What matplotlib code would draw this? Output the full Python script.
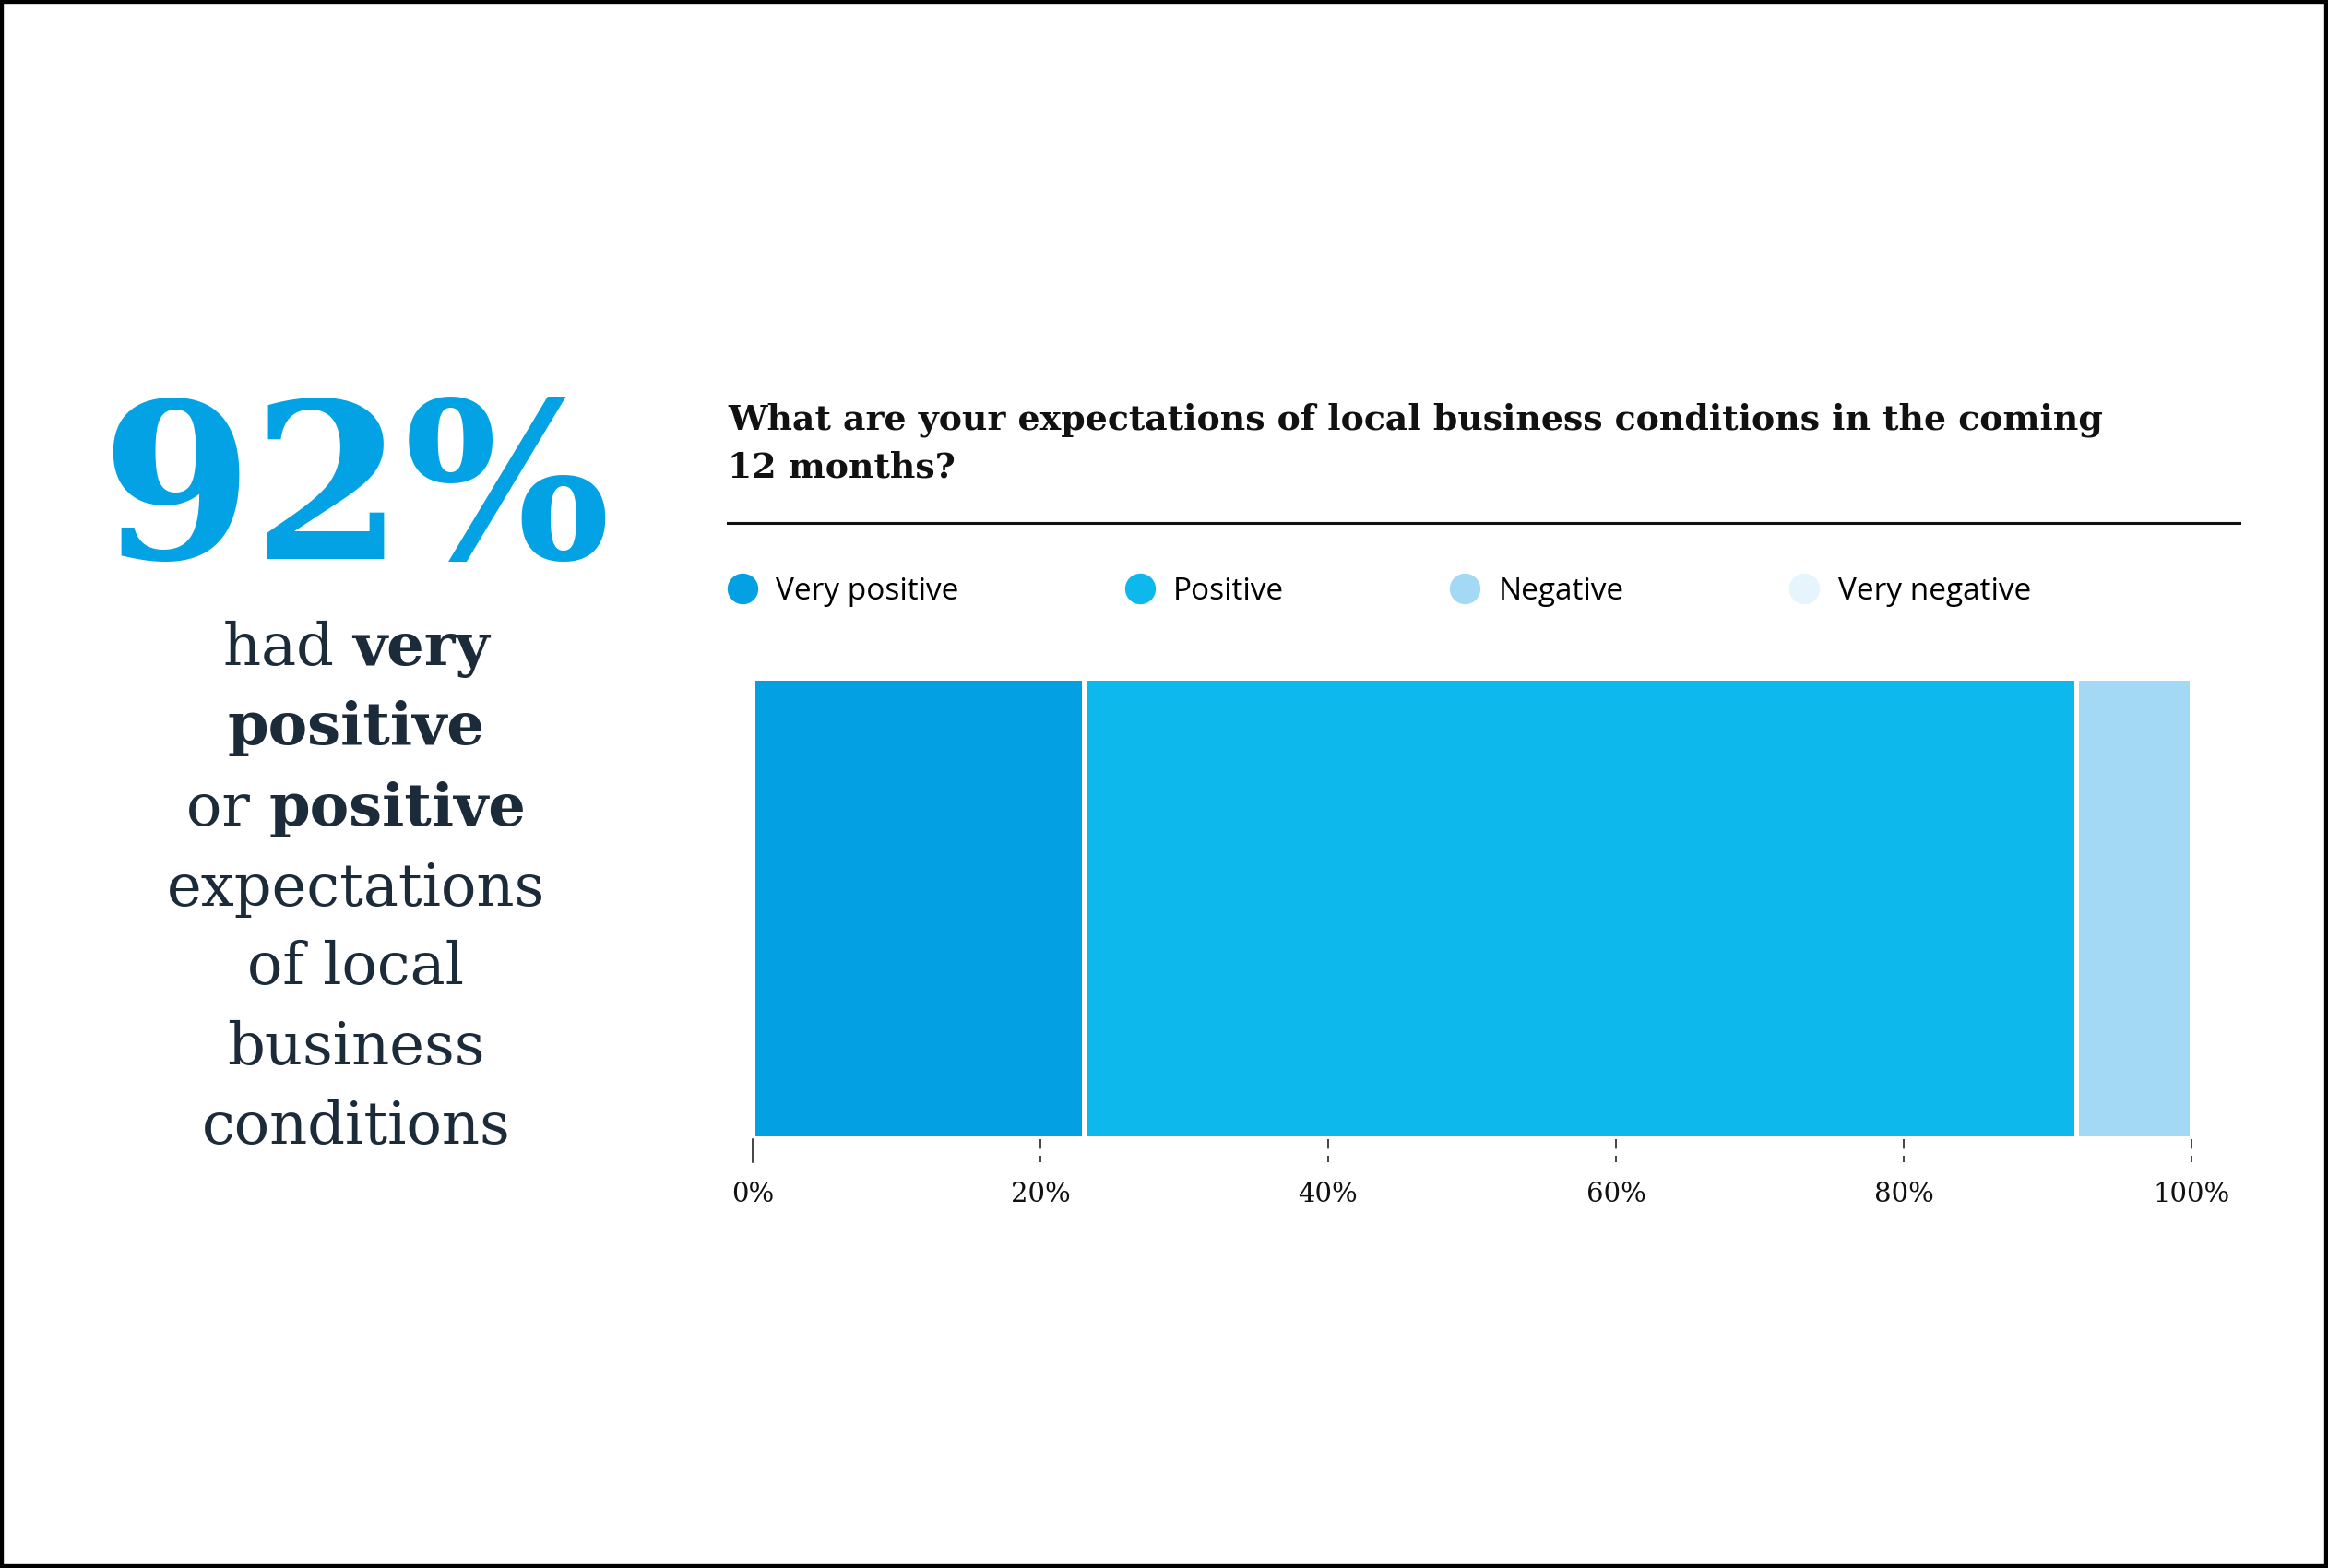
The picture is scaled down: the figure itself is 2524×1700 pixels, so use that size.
import matplotlib
matplotlib.use('Agg')
import matplotlib.pyplot as plt
from matplotlib.lines import Line2D
from matplotlib.patches import Rectangle
import matplotlib.transforms as mtransforms

plt.rcParams['lines.scale_dashes'] = False

# data
categories = ['Very positive', 'Positive', 'Negative', 'Very negative']
values = [23, 69, 8, 0]
colors = ['#03A0E3', '#0CB8EC', '#A4D9F5', '#E6F4FC']
tick_vals = [0, 20, 40, 60, 80, 100]
tick_labels = ['0%', '20%', '40%', '60%', '80%', '100%']

title_lines = ['What are your expectations of local business conditions in the coming',
               '12 months?']
headline = '92%'
# (text, bold) parts per line
side_lines = [
    [('had ', False), ('very', True)],
    [('positive', True)],
    [('or ', False), ('positive', True)],
    [('expectations', False)],
    [('of local', False)],
    [('business', False)],
    [('conditions', False)],
]

W, H = 2524, 1700
fig = plt.figure(figsize=(W / 100, H / 100), dpi=100)
fig.patch.set_facecolor('white')

def fx(px):
    return px / W

def fy(py):
    return 1 - py / H

# bar axes
ax = fig.add_axes([fx(816), fy(1233.5), fx(2376) - fx(816), fy(734.5) - fy(1233.5)])
left = 0
for cat, v, c in zip(categories, values, colors):
    ax.barh(0, v, left=left, height=1, color=c, edgecolor='white', linewidth=3.6, label=cat)
    left += v
ax.set_xlim(0, 100)
ax.set_ylim(-0.5, 0.5)
ax.set_yticks([])
for s in ax.spines.values():
    s.set_visible(False)
ax.set_xticks(tick_vals, tick_labels, fontsize=21, fontfamily='DejaVu Serif')
ax.tick_params(axis='x', length=0, pad=34, colors='#111111')

# dashed tick marks below the bar
trans = mtransforms.blended_transform_factory(ax.transData, ax.transAxes)
for t in tick_vals:
    ls = '-' if t == 0 else (0, (7.5, 5.5))
    ax.plot([t, t], [-0.004, -0.054], transform=trans, color='#111111', lw=1.1,
            ls=ls, clip_on=False)

# title
fig.text(fx(789), fy(465), title_lines[0], fontsize=27.3, fontweight='bold',
         fontfamily='DejaVu Serif', color='#111111', va='baseline')
fig.text(fx(789), fy(517), title_lines[1], fontsize=27.3, fontweight='bold',
         fontfamily='DejaVu Serif', color='#111111', va='baseline')
fig.add_artist(Line2D([fx(789), fx(2428)], [fy(567), fy(567)], color='#111111', lw=2.2))

# legend
handles = [Line2D([], [], marker='o', ls='', markersize=23, markerfacecolor=c,
                  markeredgecolor=c) for c in colors]
fig.legend(handles, categories, ncol=4, frameon=False, loc='center left',
           bbox_to_anchor=(fx(789), fy(641)), borderaxespad=0, borderpad=0,
           handlelength=0.95, handletextpad=0.62, columnspacing=5.4,
           prop={'family': 'Open Sans', 'size': 24})

# big number
fig.text(fx(386), fy(606), headline, fontsize=170, fontweight='bold',
         fontfamily='DejaVu Serif', color='#03A2E4', ha='center', va='baseline')

# side text, mixed weights, centered
renderer = fig.canvas.get_renderer()
baselines = [721, 807, 895, 982, 1067, 1154, 1240]
for parts, base in zip(side_lines, baselines):
    texts = []
    for txt, bold in parts:
        t = fig.text(0, fy(base), txt, fontsize=46, fontfamily='DejaVu Serif',
                     fontweight='bold' if bold else 'normal', color='#1C2B3A',
                     va='baseline', ha='left')
        texts.append(t)
    widths = [t.get_window_extent(renderer).width for t in texts]
    total = sum(widths)
    x = 386 - total / 2
    for t, w in zip(texts, widths):
        t.set_x(fx(x))
        x += w

# border
fig.add_artist(Rectangle((0, 0), 1, 1, transform=fig.transFigure, fill=False,
                         edgecolor='black', lw=6))

fig.savefig('out.png', dpi=100)
